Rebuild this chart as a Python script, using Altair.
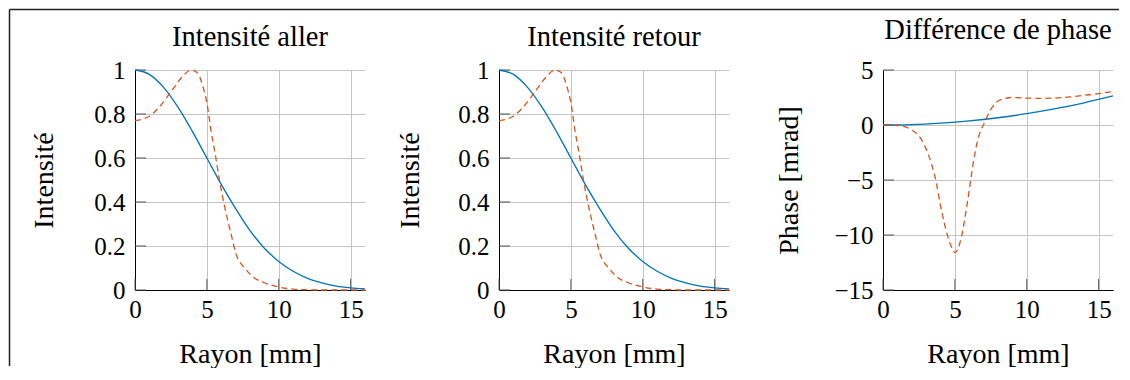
import altair as alt
import pandas as pd

FONT = "Liberation Serif"
BLUE = "#0072BD"
RED = "#D95319"
GRID = "#c4c4c4"
TICK = "#555555"

# ---- data ----
x_ticks = [0, 5, 10, 15]
int_ticks = [0, 0.2, 0.4, 0.6, 0.8, 1]
ph_ticks = [-15, -10, -5, 0, 5]

r_int_blue = [0, 1, 2, 3, 4, 5, 6, 7, 8, 9, 10, 11, 12, 13, 14, 15, 16]
int_blue = [1.0, 0.98, 0.92, 0.83, 0.72, 0.60, 0.48, 0.37, 0.27, 0.19, 0.13,
            0.085, 0.053, 0.032, 0.018, 0.010, 0.005]

r_int_red = [0, 1.0, 1.8, 2.6, 3.3, 3.9, 4.3, 4.7, 5.0, 5.3, 5.6, 5.9, 6.3, 6.7,
             7.0, 7.7, 8.3, 9.0, 9.9, 11.0, 12.0, 13.0, 16.0]
int_red = [0.77, 0.79, 0.84, 0.91, 0.97, 1.0, 0.99, 0.93, 0.85, 0.72, 0.61, 0.49,
           0.36, 0.25, 0.17, 0.095, 0.055, 0.033, 0.015, 0.004, 0.001, 0.0, 0.0]

r_ph_blue = [0, 2, 4, 6, 8, 10, 12, 14, 16]
ph_blue = [0, 0.04, 0.17, 0.37, 0.66, 1.03, 1.48, 2.02, 2.64]

r_ph_red = [0, 1.0, 1.5, 2.0, 2.5, 3.1, 3.7, 4.0, 4.5, 4.8, 5.0, 5.2, 5.45, 5.9,
            6.25, 6.6, 7.05, 7.5, 8.1, 9.0, 10.0, 11.0, 12.0, 13.0, 14.0, 15.0, 16.0]
ph_red = [0, -0.05, -0.15, -0.45, -1.0, -2.5, -5.2, -7.3, -10.1, -11.2, -11.6,
          -11.3, -10.2, -6.8, -3.7, -1.3, 0.2, 1.4, 2.25, 2.5, 2.45, 2.42, 2.45,
          2.55, 2.7, 2.85, 3.05]

titles = ["Intensité aller", "Intensité retour", "Différence de phase"]
y_titles = ["Intensité", "Intensité", "Phase [mrad]"]
x_title = "Rayon [mm]"

W, H = 230, 220
LABEL_SIZE = 25
TITLE_SIZE = 28.5
AXTITLE_SIZE = 28
one = pd.DataFrame({"k": [0]})


def make_panel(title, title_y, y_title, y_title_x, y_domain, y_ticks,
               rb, vb, rr, vr, extra=()):
    common = dict(format="~g", grid=True, gridColor=GRID, gridWidth=1,
                  ticks=False, labelFlush=False, labelOverlap=False,
                  labelFont=FONT, labelFontSize=LABEL_SIZE, labelColor="black",
                  titleFont=FONT, titleFontSize=AXTITLE_SIZE,
                  titleFontWeight="normal", titleColor="black",
                  domainColor="black", domainWidth=1,
                  titleBaseline="alphabetic")
    xenc = alt.X(
        "r:Q",
        scale=alt.Scale(domain=[0, 16], nice=False, zero=False),
        axis=alt.Axis(values=x_ticks, title=x_title, labelPadding=27,
                      labelBaseline="alphabetic", titleY=72, **common),
    )
    yenc = alt.Y(
        "v:Q",
        scale=alt.Scale(domain=y_domain, nice=False, zero=False),
        axis=alt.Axis(values=y_ticks, title=y_title, labelPadding=10,
                      titleX=y_title_x, **common),
    )
    yt = alt.Chart(pd.DataFrame({"v": y_ticks})).mark_rule(
        color=TICK, strokeWidth=1).encode(y=yenc, x=alt.value(0), x2=alt.value(11))
    xt = alt.Chart(pd.DataFrame({"r": x_ticks})).mark_rule(
        color=TICK, strokeWidth=1).encode(x=xenc, y=alt.value(H), y2=alt.value(H - 11))
    blue = alt.Chart(pd.DataFrame({"r": rb, "v": vb})).mark_line(
        color=BLUE, strokeWidth=1.3, interpolate="monotone").encode(x=xenc, y=yenc)
    red = alt.Chart(pd.DataFrame({"r": rr, "v": vr})).mark_line(
        color=RED, strokeWidth=1.3, strokeDash=[6, 4],
        interpolate="monotone").encode(x=xenc, y=yenc)
    ttl = alt.Chart(one).mark_text(
        font=FONT, fontSize=TITLE_SIZE, color="black", align="center",
        baseline="alphabetic").encode(
        x=alt.value(W / 2), y=alt.value(title_y), text=alt.value(title))
    return alt.layer(yt, xt, blue, red, ttl, *extra).properties(width=W, height=H)


left_border = alt.Chart(one).mark_rule(color="#222222", strokeWidth=1.5).encode(
    x=alt.value(-125.5), y=alt.value(-60.5), y2=alt.value(296))
top_border = alt.Chart(one).mark_rule(color="#222222", strokeWidth=1.5).encode(
    x=alt.value(-125.5), x2=alt.value(984), y=alt.value(-60.5))

p1 = make_panel(titles[0], -24.5, y_titles[0], -83, [0, 1], int_ticks,
                r_int_blue, int_blue, r_int_red, int_red,
                extra=(left_border, top_border))
p2 = make_panel(titles[1], -24.5, y_titles[1], -81, [0, 1], int_ticks,
                r_int_blue, int_blue, r_int_red, int_red)
p3 = make_panel(titles[2], -31, y_titles[2], -86, [-15, 5], ph_ticks,
                r_ph_blue, ph_blue, r_ph_red, ph_red)


def spacer(w):
    return alt.Chart(one).mark_point(opacity=0).encode(
        x=alt.value(0), y=alt.value(0)).properties(width=w, height=H)


chart = alt.hconcat(p1, spacer(134), p2, spacer(154), p3,
                    spacing=0, bounds="flush", padding=0).configure(
    background="white", font=FONT
).configure_view(
    stroke=None
)

chart.save("out.html", embed_options={"renderer": "svg", "actions": False})
